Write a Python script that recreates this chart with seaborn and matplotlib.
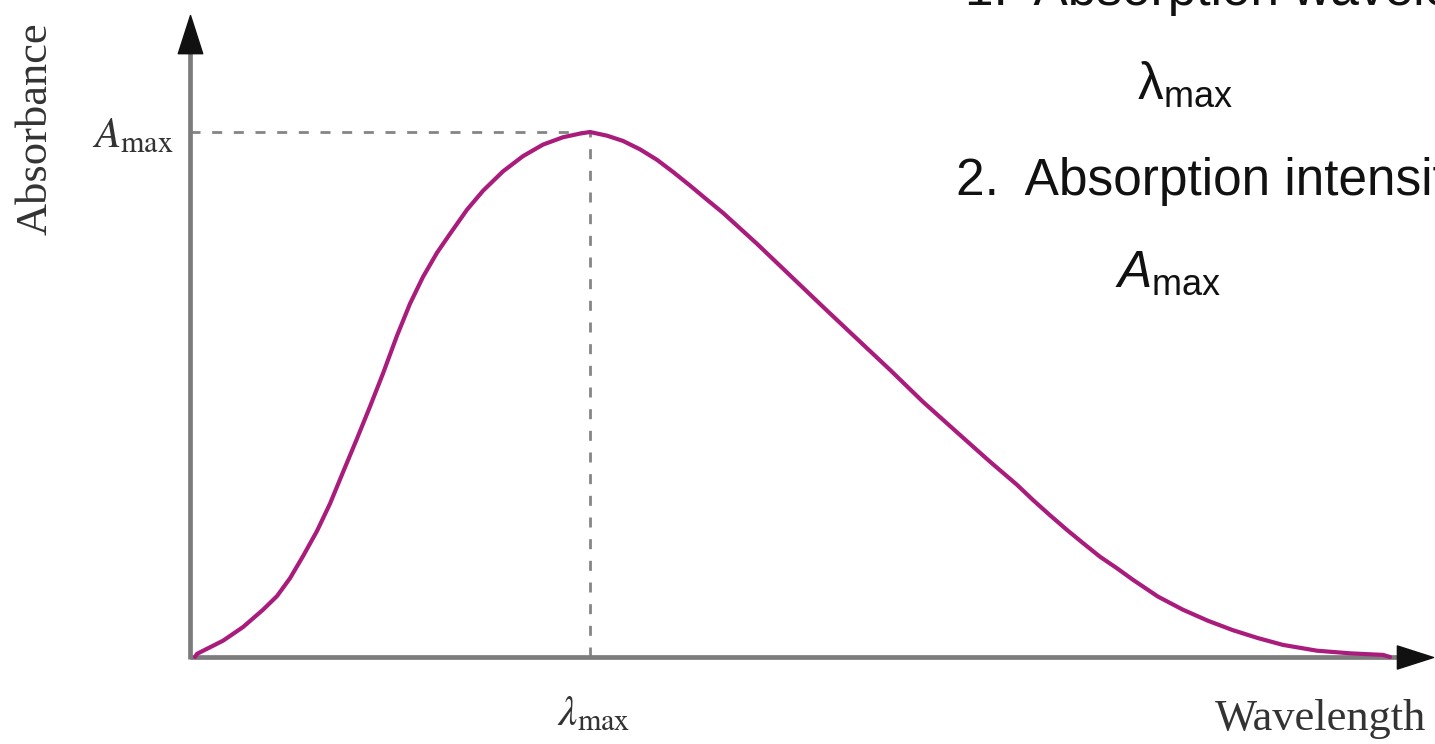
import numpy as np
import pandas as pd
import matplotlib
matplotlib.use("Agg")
import matplotlib.pyplot as plt
from matplotlib.path import Path
import seaborn as sns

# Absorption band (arbitrary wavelength units, absorbance normalised to A_max = 1)
wavelength = [5, 7, 33, 53, 73, 87, 100, 113, 127, 140, 153, 167, 180, 193, 207,
              220, 233, 247, 260, 277, 293, 313, 333, 353, 373, 390, 400,
              417, 433, 450, 467, 483, 500, 517, 533, 567, 600, 633, 667, 700,
              733, 767, 800, 827, 843, 860, 877, 893, 910, 927, 943, 968, 993,
              1018, 1043, 1068, 1093, 1127, 1160, 1193, 1200]
absorbance = [0.0, 0.006, 0.031, 0.057, 0.090, 0.116, 0.150, 0.192, 0.240, 0.292,
              0.352, 0.416, 0.477, 0.540, 0.612, 0.673, 0.724, 0.770, 0.806,
              0.852, 0.888, 0.925, 0.954, 0.976, 0.990, 0.997, 1.0,
              0.993, 0.983, 0.967, 0.947, 0.924, 0.898, 0.871, 0.846, 0.787,
              0.727, 0.667, 0.606, 0.547, 0.486, 0.428, 0.372, 0.328, 0.299,
              0.270, 0.242, 0.217, 0.191, 0.169, 0.147, 0.115, 0.090, 0.069,
              0.051, 0.036, 0.023, 0.012, 0.007, 0.004, 0.0]

y_label = "Absorbance"
x_label = "Wavelength"
notes = ["1.  Absorption wavelength", "2.  Absorption intensity"]

sns.set_style("white")
plt.rcParams["font.family"] = ["Liberation Sans", "DejaVu Sans"]
plt.rcParams["mathtext.rm"] = "Liberation Sans"
plt.rcParams["mathtext.it"] = "Liberation Sans:italic"

W, H = 1435, 744
fig = plt.figure(figsize=(W / 100, H / 100), dpi=100)


def fx(px):
    return px / W


def fy(py):
    return 1 - py / H


# axes frame: origin at (190, 657) px, arrow tips at x=1433 px and y=15 px
x0, y0, x1, y1 = 190, 657, 1433, 15
ax = fig.add_axes([fx(x0), fy(y0), fx(x1) - fx(x0), fy(y1) - fy(y0)])
xmax = x1 - x0
ymax = (y0 - y1) / (y0 - 132)
ax.set_xlim(0, xmax)
ax.set_ylim(0, ymax)
ax.set_axis_off()

df = pd.DataFrame({"wavelength": wavelength, "absorbance": absorbance})
sns.lineplot(data=df, x="wavelength", y="absorbance", ax=ax, color="#AA1C7C",
             lw=3.0, clip_on=False, zorder=4, solid_joinstyle="round",
             solid_capstyle="round")

# guide lines to the band maximum
i_peak = int(np.argmax(absorbance))
lam_peak, a_peak = wavelength[i_peak], absorbance[i_peak]
dash = (0, (3.6, 4.2))
ax.plot([0, lam_peak], [a_peak, a_peak], color="#858585", lw=2.0, ls=dash, zorder=2)
ax.plot([lam_peak, lam_peak], [0, a_peak], color="#858585", lw=2.0, ls=dash, zorder=2)

# axis shafts
axis_col = "#7c7c7c"
ax.plot([0, xmax * 0.975], [0, 0], color=axis_col, lw=3.4, clip_on=False,
        solid_capstyle="butt", zorder=3)
ax.plot([0, 0], [-0.004, ymax * 0.95], color=axis_col, lw=3.4, clip_on=False,
        solid_capstyle="butt", zorder=3)

# arrow heads (tip at the marker's origin)
up_head = Path([(0, 0), (-0.32, -1), (0.32, -1), (0, 0)],
               [Path.MOVETO, Path.LINETO, Path.LINETO, Path.CLOSEPOLY])
right_head = Path([(0, 0), (-1, 0.32), (-1, -0.32), (0, 0)],
                  [Path.MOVETO, Path.LINETO, Path.LINETO, Path.CLOSEPOLY])
ax.plot([0], [ymax], marker=up_head, ms=55, color="#111111", mec="#111111",
        clip_on=False, zorder=5)
ax.plot([xmax], [0], marker=right_head, ms=52, color="#111111", mec="#111111",
        clip_on=False, zorder=5)

# axis captions (serif, book style)
serif = ["Liberation Serif", "DejaVu Serif"]
fig.text(fx(36), fy(129), y_label, rotation=90, ha="center", va="center",
         family=serif, fontsize=32, color="#333333")
fig.text(fx(1215), fy(730), x_label, ha="left", va="baseline",
         family=serif, fontsize=32, color="#333333")
fig.text(fx(174), fy(147), r"$A_{\mathrm{max}}$", ha="right", va="baseline",
         fontsize=31, color="#333333", math_fontfamily="stix")
fig.text(fx(557), fy(725), r"$\lambda_{\mathrm{max}}$", ha="left", va="baseline",
         fontsize=31, color="#333333", math_fontfamily="stix")

# side notes
fig.text(fx(965), fy(5), notes[0], ha="left", va="baseline", fontsize=37,
         color="#111111")
fig.text(fx(956), fy(195), notes[1], ha="left", va="baseline", fontsize=37,
         color="#111111")
fig.text(fx(1137), fy(99), r"$\mathrm{\lambda}_{\mathrm{max}}$", ha="left",
         va="baseline", fontsize=37, color="#111111", math_fontfamily="custom")
fig.text(fx(1115), fy(287), r"$A_{\mathrm{max}}$", ha="left", va="baseline",
         fontsize=37, color="#111111", math_fontfamily="custom")

fig.savefig("out.png", dpi=100)
